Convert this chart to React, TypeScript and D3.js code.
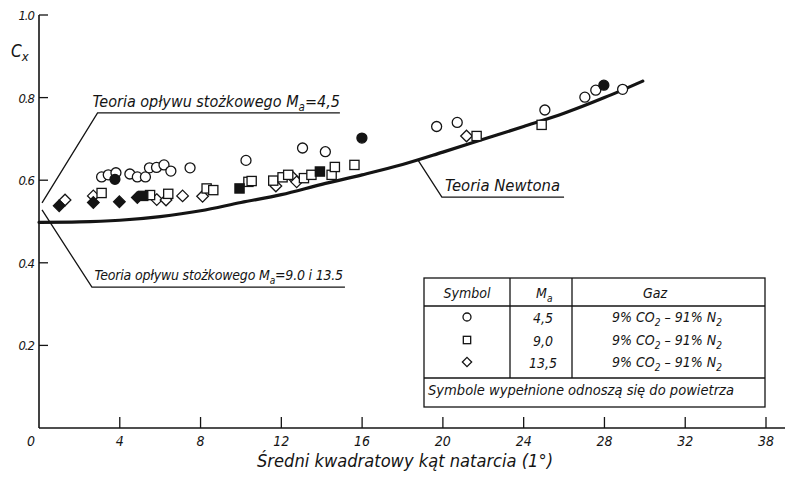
import React from 'react';
import * as d3 from 'd3';

// Teoria Newtona
const newtonAlpha = [0, 2, 4, 6, 8, 10, 12, 14, 16, 18, 20, 22, 24, 26, 28, 29.9];
const newtonCx = [0.498, 0.499, 0.503, 0.512, 0.526, 0.546, 0.565, 0.59, 0.613, 0.638, 0.668, 0.699, 0.73, 0.762, 0.8, 0.84];

// M = 4.5 (circles)
const circleAlpha = [3.1, 3.43, 3.81, 4.5, 4.87, 5.27, 5.47, 5.82, 6.19, 6.53, 7.48, 10.25, 13.05, 14.18, 19.69, 20.71, 25.05, 27.03, 27.57, 28.9];
const circleCx = [0.608, 0.613, 0.618, 0.615, 0.608, 0.608, 0.63, 0.631, 0.637, 0.622, 0.63, 0.648, 0.678, 0.669, 0.73, 0.74, 0.77, 0.801, 0.818, 0.82];
const circleAirAlpha = [3.76, 15.99, 27.97];
const circleAirCx = [0.602, 0.702, 0.83];

// M = 9.0 (squares)
const squareAlpha = [3.1, 5.5, 6.4, 8.3, 8.63, 10.37, 10.53, 11.6, 12.06, 12.34, 13.12, 13.49, 14.49, 14.65, 15.62, 21.67, 24.89];
const squareCx = [0.569, 0.564, 0.567, 0.58, 0.576, 0.596, 0.598, 0.599, 0.607, 0.613, 0.605, 0.613, 0.613, 0.632, 0.637, 0.707, 0.734];
const squareAirAlpha = [5.16, 9.93, 13.91];
const squareAirCx = [0.562, 0.58, 0.621];

// M = 13.5 (diamonds)
const diamondAlpha = [1.29, 2.69, 5.83, 6.29, 7.11, 8.1, 11.73, 12.56, 12.76, 21.17];
const diamondCx = [0.552, 0.562, 0.553, 0.552, 0.562, 0.561, 0.586, 0.607, 0.596, 0.707];
const diamondAirAlpha = [1.0, 2.69, 3.98, 4.87];
const diamondAirCx = [0.538, 0.546, 0.548, 0.558];

const xTicks = [4, 8, 12, 16, 20, 24, 28, 32, 36];
const xTickLabels = ['4', '8', '12', '16', '20', '24', '28', '32', '38'];
const yTicks = [0.2, 0.4, 0.6, 0.8, 1.0];

const tableMach = ['4,5', '9,0', '13,5'];
const tableSymbols = ['circle', 'square', 'diamond'];

const FONT = '"DejaVu Sans Condensed", "DejaVu Sans", sans-serif';
const INK = '#141414';

function Marker({ kind, cx, cy, filled, s = 1 }) {
  const fill = filled ? INK : '#fff';
  if (kind === 'circle') {
    return <circle cx={cx} cy={cy} r={5 * s} fill={fill} stroke={INK} strokeWidth={1.3} />;
  }
  if (kind === 'square') {
    const h = 4.6 * s;
    return <rect x={cx - h} y={cy - h} width={2 * h} height={2 * h} fill={fill} stroke={INK} strokeWidth={1.3} />;
  }
  const d = 5.8 * s;
  return <path d={`M${cx},${cy - d}L${cx + d},${cy}L${cx},${cy + d}L${cx - d},${cy}Z`} fill={fill} stroke={INK} strokeWidth={1.3} />;
}

export default function App() {
  const x = d3.scaleLinear().domain([0, 36]).range([39, 766]);
  const y = d3.scaleLinear().domain([0, 1]).range([428, 15]);

  const newtonLine = d3.line<number>()
    .x(i => x(newtonAlpha[i]))
    .y(i => y(newtonCx[i]))
    .curve(d3.curveMonotoneX);

  const series = [
    { kind: 'diamond', a: diamondAlpha, c: diamondCx, filled: false },
    { kind: 'square', a: squareAlpha, c: squareCx, filled: false },
    { kind: 'circle', a: circleAlpha, c: circleCx, filled: false },
    { kind: 'diamond', a: diamondAirAlpha, c: diamondAirCx, filled: true },
    { kind: 'square', a: squareAirAlpha, c: squareAirCx, filled: true },
    { kind: 'circle', a: circleAirAlpha, c: circleAirCx, filled: true },
  ];

  const pts = (arr) => arr.map(p => `${x(p[0])},${y(p[1])}`).join(' ');

  const sub = (t) => <tspan dy={4} fontSize="0.72em">{t}</tspan>;

  const rowY = [318, 341, 363];

  return (
    <svg width={787} height={477} style={{ position: 'absolute', left: 0, top: 0, background: '#fff' }}
      fontFamily={FONT} fontStyle="italic" fill={INK}>
      {/* axes */}
      <line x1={x(0)} x2={785} y1={y(0)} y2={y(0)} stroke={INK} strokeWidth={1.6} />
      <line x1={x(0)} x2={x(0)} y1={y(0)} y2={y(1)} stroke={INK} strokeWidth={1.6} />
      {xTicks.map((t, i) => (
        <g key={t}>
          <line x1={x(t)} x2={x(t)} y1={y(0)} y2={y(0) - 11} stroke={INK} strokeWidth={1.3} />
          <text x={x(t)} y={446} fontSize={14} textAnchor="middle">{xTickLabels[i]}</text>
        </g>
      ))}
      <text x={31} y={446} fontSize={14} textAnchor="middle">0</text>
      {yTicks.map(t => (
        <g key={t}>
          <line x1={x(0)} x2={x(0) + 9} y1={y(t)} y2={y(t)} stroke={INK} strokeWidth={1.3} />
          <text x={34} y={y(t) + 5} fontSize={13} textAnchor="end" letterSpacing={-1}>{t.toFixed(1)}</text>
        </g>
      ))}
      <text x={11} y={57} fontSize={17}>C<tspan dy={4} fontSize={13}>x</tspan></text>
      <text x={405} y={467} fontSize={18} textAnchor="middle" textLength={296} lengthAdjust="spacingAndGlyphs">
        Średni kwadratowy kąt natarcia (1°)
      </text>

      {/* Newton curve */}
      <path d={newtonLine(d3.range(newtonAlpha.length))} fill="none" stroke={INK} strokeWidth={3.2} strokeLinecap="round" />

      {/* annotations */}
      <polyline points={pts([[0.15, 0.545], [2.9, 0.763], [14.9, 0.763]])} fill="none" stroke={INK} strokeWidth={1.3} />
      <text x={x(2.65)} y={y(0.763) - 6} fontSize={16} letterSpacing={0}>
        Teoria opływu stożkowego M{sub('a')}<tspan dy={-4}>=4,5</tspan>
      </text>
      <polyline points={pts([[0.15, 0.528], [2.62, 0.341], [15.15, 0.341]])} fill="none" stroke={INK} strokeWidth={1.3} />
      <text x={x(2.75)} y={y(0.341) - 7} fontSize={14} letterSpacing={-0.2}>
        Teoria opływu stożkowego M{sub('a')}<tspan dy={-4}>=9.0 i 13.5</tspan>
      </text>
      <polyline points={pts([[18.76, 0.649], [19.95, 0.559], [26.0, 0.559]])} fill="none" stroke={INK} strokeWidth={1.3} />
      <text x={x(20.1)} y={y(0.559) - 6} fontSize={16} textLength={x(25.8) - x(20.1)} lengthAdjust="spacingAndGlyphs">
        Teoria Newtona
      </text>

      {/* data */}
      {series.map((s, si) => s.a.map((a, i) => (
        <Marker key={`${si}-${i}`} kind={s.kind} cx={x(a)} cy={y(s.c[i])} filled={s.filled} />
      )))}

      {/* legend table */}
      <g fill="none" stroke={INK} strokeWidth={1.3}>
        <rect x={424} y={278} width={341} height={129} fill="#fff" />
        <line x1={424} x2={765} y1={306} y2={306} />
        <line x1={424} x2={765} y1={378} y2={378} />
        <line x1={510} x2={510} y1={278} y2={378} />
        <line x1={572} x2={572} y1={278} y2={378} />
      </g>
      <text x={467} y={298} fontSize={14} textAnchor="middle">Symbol</text>
      <text x={536} y={298} fontSize={14}>M{sub('a')}</text>
      <text x={655} y={298} fontSize={14} textAnchor="middle">Gaz</text>
      {tableMach.map((m, i) => (
        <g key={m}>
          <Marker kind={tableSymbols[i]} cx={467} cy={rowY[i] - 1} filled={false} s={0.8} />
          <text x={543} y={rowY[i] + 5} fontSize={14} textAnchor="middle">{m}</text>
          <text x={667} y={rowY[i] + 4} fontSize={14} textAnchor="middle">
            9% CO{sub('2')}<tspan dy={-4}> – 91% N</tspan>{sub('2')}
          </text>
        </g>
      ))}
      <text x={428} y={395} fontSize={14} textLength={306} lengthAdjust="spacingAndGlyphs">
        Symbole wypełnione odnoszą się do powietrza
      </text>
    </svg>
  );
}
